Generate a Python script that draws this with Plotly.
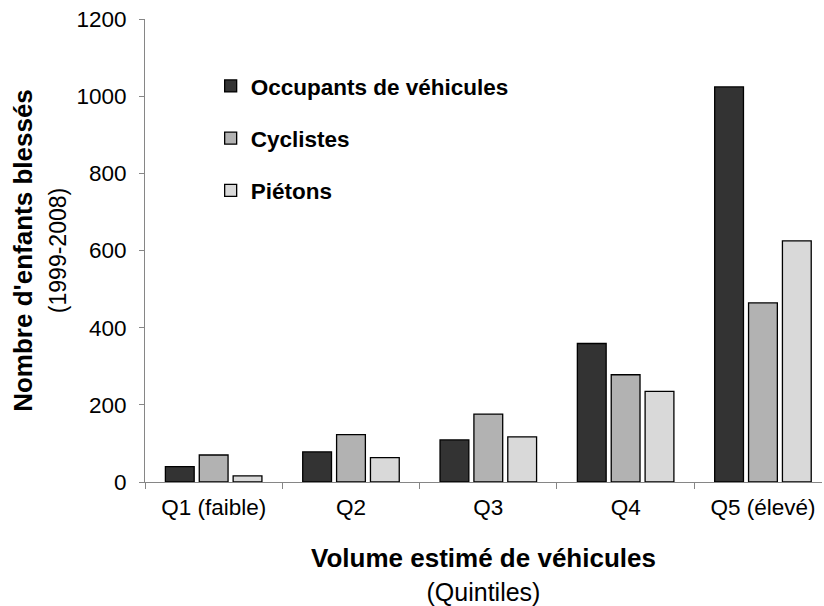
import plotly.graph_objects as go

categories = ["Q1 (faible)", "Q2", "Q3", "Q4", "Q5 (élevé)"]
occupants = [40, 78, 109, 359, 1024]
cyclistes = [70, 123, 176, 278, 464]
pietons = [16, 63, 117, 235, 625]
series_names = ["Occupants de véhicules", "Cyclistes", "Piétons"]
colors = ["#333333", "#b2b2b2", "#d9d9d9"]
y_ticks = [0, 200, 400, 600, 800, 1000, 1200]

FONT = "Liberation Sans, Arial, sans-serif"

fig = go.Figure()
for i, (name, vals) in enumerate(zip(series_names, [occupants, cyclistes, pietons])):
    fig.add_trace(go.Bar(
        x=categories, y=vals, name=name,
        marker=dict(color=colors[i], line=dict(color="#000000", width=1.3)),
        legendgroup=f"g{i}",
    ))

fig.update_layout(
    width=824, height=606,
    margin=dict(l=145, r=2, t=19, b=124, autoexpand=False),
    plot_bgcolor="white", paper_bgcolor="white",
    barmode="group", bargap=0.26, bargroupgap=0.15,
    font=dict(family=FONT, size=22, color="#000000"),
    showlegend=True,
    legend=dict(
        x=0.097, y=0.901, xanchor="left", yanchor="top",
        font=dict(family=FONT, size=22.5, color="#000000", weight="bold"),
        tracegroupgap=20, bgcolor="rgba(0,0,0,0)",
        itemwidth=30,
    ),
    xaxis=dict(
        type="category", range=[-0.5, 4.43], automargin=True,
        showline=True, linecolor="#868686", linewidth=1,
        ticks="outside", tickson="boundaries", ticklen=6, tickcolor="#868686",
        tickfont=dict(family=FONT, size=22.5), ticklabelstandoff=5,
        title=dict(text="<b>Volume estimé de véhicules</b><br><span style='font-size:25px'>(Quintiles)</span>",
                   font=dict(family=FONT, size=26), standoff=38),
        showgrid=False, zeroline=False,
    ),
    yaxis=dict(
        range=[0, 1200], tickvals=y_ticks, automargin=True,
        showline=True, linecolor="#868686", linewidth=1,
        ticks="outside", ticklen=5, tickcolor="#868686",
        tickfont=dict(family=FONT, size=22.5), ticklabelstandoff=8,
        title=dict(text="<b>Nombre d'enfants blessés</b><br><span style='font-size:23px'>(1999-2008)</span>",
                   font=dict(family=FONT, size=26), standoff=2),
        showgrid=False, zeroline=False,
    ),
)

fig.write_html("out.html", config={"displayModeBar": False},
               post_script="document.body.style.margin='0';")
